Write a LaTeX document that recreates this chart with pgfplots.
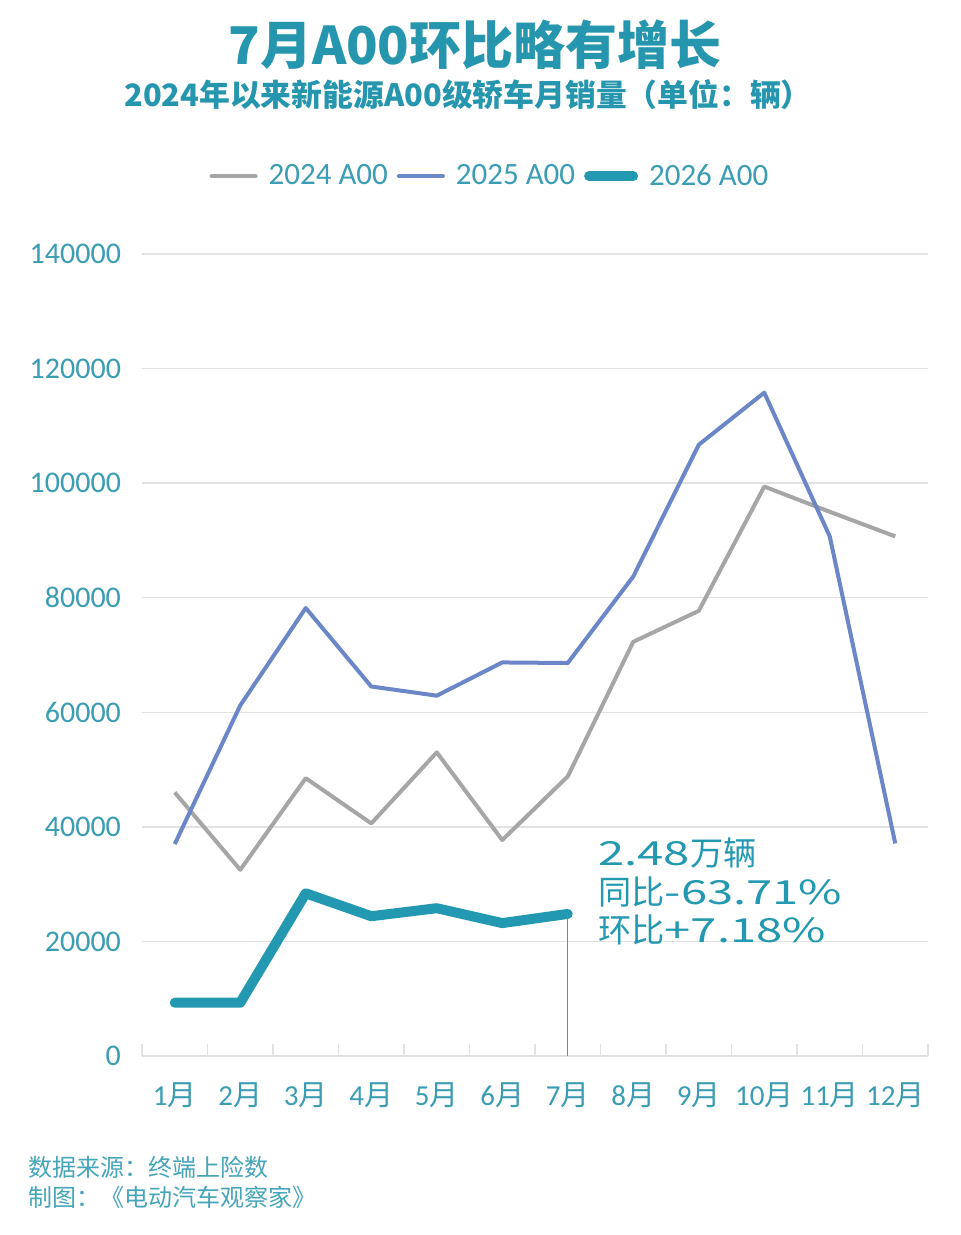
\documentclass[border=0pt]{standalone}
\usepackage{pgfplots}
\pgfplotsset{compat=1.18}
\usepackage{fontspec}
\setmainfont{Noto Sans CJK SC}
\newfontfamily\carlito{Carlito}
\newfontfamily\wide[FakeStretch=1.42]{Noto Sans CJK SC}
\definecolor{titleteal}{HTML}{2596AE}
\definecolor{tickteal}{HTML}{3A9DB3}
\definecolor{teal26}{HTML}{2399B1}
\definecolor{blue25}{HTML}{6B87C7}
\definecolor{gray24}{HTML}{A6A6A6}
\definecolor{gridc}{HTML}{E2E2E2}
\definecolor{vline}{HTML}{4D95B5}
\definecolor{foot}{HTML}{45A5B9}
\newcommand{\m}[1]{{\carlito #1}月}
\newcommand{\px}[2]{({#1*0.5pt},{(1235-#2)*0.5pt})}
\begin{document}
\begin{tikzpicture}
\path[use as bounding box, fill=white] (0,0) rectangle (480pt,617.5pt);
\node[text=titleteal, font=\bfseries\fontsize{26}{26}\selectfont] at \px{475}{45} {7月A00环比略有增长};
\node[text=titleteal, font=\bfseries\fontsize{15.4}{15.4}\selectfont] at \px{468}{95} {2024年以来新能源A00级轿车月销量（单位：辆）};
\begin{axis}[
  at={(71pt,89.5pt)}, anchor=south west,
  scale only axis, width=393pt, height=401pt,
  xmin=0.5, xmax=12.5, ymin=0, ymax=140000,
  axis x line*=bottom, axis y line*=left,
  y axis line style={draw=none},
  x axis line style={draw=gridc, line width=0.8pt},
  xtick={1,...,12},
  xticklabels={\m{1},\m{2},\m{3},\m{4},\m{5},\m{6},\m{7},\m{8},\m{9},\m{10},\m{11},\m{12}},
  major x tick style={draw=none},
  minor xtick={0.5,1.5,...,12.5},
  minor x tick style={draw=gridc, line width=0.8pt},
  minor tick length=6pt,
  tick align=inside,
  ytick={0,20000,...,140000},
  ytick style={draw=none},
  scaled y ticks=false,
  /pgf/number format/assume math mode=true,
  yticklabel={\pgfmathprintnumber[fixed,1000 sep={}]{\tick}},
  yticklabel style={font=\carlito\fontsize{15}{15}\selectfont, text=tickteal, xshift=-7pt},
  xticklabel style={font=\fontsize{14.5}{14.5}\selectfont, text=tickteal, anchor=center, yshift=-19.5pt},
  ymajorgrids, grid style={draw=gridc, line width=0.7pt},
  clip=false,
  legend columns=3,
  legend style={at={(0.444,1.097)}, anchor=center, draw=none, fill=none,
    font=\carlito\fontsize{15.5}{15.5}\selectfont, text=tickteal,
    nodes={inner xsep=2pt},
    /tikz/every odd column/.append style={column sep=3.5pt},
    /tikz/every even column/.append style={column sep=2.5pt}},
  legend image code/.code={\draw[#1, line cap=round] (0pt,0pt) -- (22pt,0pt);},
]
\addplot[gray24, line width=2pt, line join=round] coordinates {
(1,46000) (2,32500) (3,48500) (4,40600) (5,53000) (6,37700) (7,48800) (8,72300) (9,77700) (10,99400) (11,95000) (12,90700)};
\addlegendentry{2024 A00}
\addplot[blue25, line width=2pt, line join=round] coordinates {
(1,37000) (2,61200) (3,78200) (4,64500) (5,62900) (6,68700) (7,68600) (8,83700) (9,106700) (10,115800) (11,90700) (12,37100)};
\addlegendentry{2025 A00}
\addplot[teal26, line width=5pt, line join=round, line cap=round] coordinates {
(1,9300) (2,9300) (3,28400) (4,24400) (5,25800) (6,23200) (7,24800)};
\addlegendentry{2026 A00}
\addplot[vline, line width=0.6pt, forget plot] coordinates {(7,0) (7,24800)};
\end{axis}
\node[anchor=base west, text=teal26, font=\fontsize{16.6}{16.6}\selectfont, inner sep=0pt] at \px{598}{866} {{\wide 2.48}万辆};
\node[anchor=base west, text=teal26, font=\fontsize{16.6}{16.6}\selectfont, inner sep=0pt] at \px{598}{905} {同比{\wide -63.71\%}};
\node[anchor=base west, text=teal26, font=\fontsize{16.6}{16.6}\selectfont, inner sep=0pt] at \px{598}{943} {环比{\wide +7.18\%}};
\node[anchor=west, text=foot, font=\fontsize{12}{12}\selectfont, inner sep=0pt] at \px{28}{1167} {数据来源：终端上险数};
\node[anchor=west, text=foot, font=\fontsize{12}{12}\selectfont, inner sep=0pt] at \px{28}{1197} {制图：《电动汽车观察家》};
\end{tikzpicture}
\end{document}
